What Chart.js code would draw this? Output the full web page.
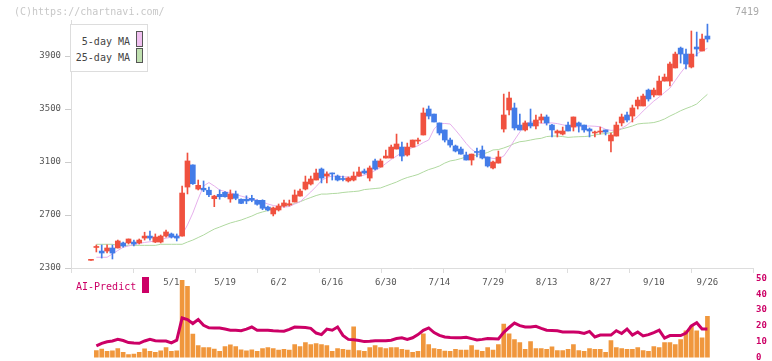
<!DOCTYPE html>
<html><head><meta charset="utf-8">
<script src="https://cdn.jsdelivr.net/npm/chart.js@4.4.1/dist/chart.umd.min.js"></script>
<style>
html,body{margin:0;padding:0;background:#fff;}
#wrap{position:relative;width:772px;height:361px;overflow:hidden;font-family:"DejaVu Sans Mono",monospace;}
canvas{position:absolute;left:0;}
#c1{top:0;} #c2{top:270px;}
.t{position:absolute;white-space:nowrap;line-height:12px;}
</style></head><body>
<div id="wrap">
<canvas id="c2" width="772" height="96"></canvas>
<canvas id="c1" width="772" height="295"></canvas>
<div class="t" style="left:14px;top:6px;font-size:10px;color:#c8c8c8">(C)https://chartnavi.com/</div>
<div class="t" style="left:735px;top:6px;font-size:10px;color:#aaa">7419</div>
<div style="position:absolute;left:70px;top:24px;width:76px;height:46px;border:1px solid #ddd;background:#fff;">
  <div class="t" style="right:17px;top:11px;font-size:10px;color:#444">5-day MA</div>
  <div class="t" style="right:17px;top:27px;font-size:10px;color:#444">25-day MA</div>
  <div style="position:absolute;left:65px;top:6px;width:5px;height:14px;border:1px solid #555;background:#f0c0f0"></div>
  <div style="position:absolute;left:65px;top:23px;width:5px;height:13px;border:1px solid #555;background:#c0e0b0"></div>
</div>
<div class="t" style="left:76px;top:281px;font-size:10px;color:#cc0066">AI-Predict</div>
<div style="position:absolute;left:142px;top:277px;width:7px;height:16px;background:#cc0066"></div>
</div>
<script>
// ---- data ----
const open = [2358,2455,2428,2428,2451,2451,2489,2489,2496,2489,
2526,2541,2496,2496,2541,2557,2541,2541,2911,3078,
2896,2902,2887,2823,2856,2871,2821,2859,2819,2819,
2826,2811,2811,2760,2708,2738,2768,2776,2798,2843,
2896,2934,2964,3047,2994,3017,2994,2972,2957,2964,
2994,3032,2979,3108,3062,3130,3130,3198,3213,3153,
3213,3258,3304,3500,3462,3395,3342,3266,3221,3198,
3153,3115,3178,3190,3138,3055,3092,3349,3493,3508,
3379,3342,3395,3372,3417,3440,3379,3319,3311,3379,
3364,3395,3379,3349,3319,3326,3342,3259,3296,3395,
3455,3447,3523,3523,3643,3606,3606,3711,3711,3810,
3960,3915,3817,3968,3938,4051];
const close = [2362,2460,2413,2451,2413,2504,2466,2519,2481,2511,
2541,2526,2534,2541,2572,2534,2526,2866,3108,2936,
2924,2889,2853,2843,2838,2838,2859,2826,2788,2806,
2811,2781,2751,2738,2753,2768,2791,2785,2851,2881,
2949,2972,3017,2979,3010,3010,2964,2968,2979,2994,
3025,3017,3055,3047,3108,3145,3213,3236,3145,3213,
3266,3266,3470,3447,3402,3319,3266,3228,3183,3160,
3115,3160,3172,3130,3070,3100,3138,3455,3583,3357,
3342,3395,3372,3417,3440,3395,3342,3334,3334,3334,
3440,3372,3342,3334,3326,3334,3326,3304,3379,3440,
3417,3508,3568,3598,3576,3643,3711,3741,3840,3915,
3915,3840,3915,3953,4028,4028];
const high = [2362,2474,2474,2474,2474,2511,2496,2519,2511,2519,
2570,2579,2557,2549,2587,2564,2557,2919,3168,3078,
2964,2957,2911,2849,2889,2876,2889,2881,2822,2845,
2849,2815,2815,2768,2760,2783,2813,2813,2889,2896,
2994,2994,3047,3055,3025,3017,3002,2994,2987,3025,
3062,3047,3070,3123,3123,3190,3228,3311,3251,3243,
3266,3281,3508,3523,3462,3395,3342,3281,3228,3213,
3175,3160,3206,3221,3138,3108,3183,3613,3628,3545,
3462,3410,3500,3455,3462,3455,3385,3342,3364,3402,
3440,3402,3379,3357,3334,3364,3342,3319,3402,3462,
3477,3530,3590,3613,3651,3658,3749,3764,3855,3930,
3968,3953,4089,4081,4066,4141];
const low = [2358,2421,2375,2413,2368,2451,2458,2481,2466,2481,
2511,2511,2492,2489,2532,2526,2504,2541,2859,2930,
2889,2876,2838,2763,2819,2834,2796,2815,2785,2785,
2800,2775,2740,2730,2693,2730,2760,2768,2798,2843,
2889,2926,2964,2942,2942,2964,2957,2957,2949,2957,
2994,3010,2957,3040,3062,3130,3130,3198,3108,3145,
3213,3236,3304,3425,3402,3304,3251,3213,3176,3160,
3115,3077,3138,3123,3062,3047,3092,3326,3455,3342,
3342,3334,3357,3349,3395,3379,3289,3289,3304,3334,
3334,3326,3326,3289,3289,3311,3304,3176,3296,3372,
3402,3402,3500,3523,3560,3591,3606,3711,3674,3810,
3847,3802,3810,3900,3938,4006];
const ma5 = [null,2381,2381,2381,2406,2432,2456,2466,2477,2485,
2493,2498,2504,2515,2525,2532,2538,2549,2625,2715,
2821,2919,2945,2919,2889,2877,2868,2855,2843,2832,
2822,2813,2798,2783,2772,2764,2760,2764,2783,2800,
2836,2874,2915,2960,2983,2994,2993,2989,2987,2985,
2991,3002,3015,3036,3058,3089,3119,3145,3172,3194,
3209,3223,3247,3266,3349,3388,3391,3387,3341,3292,
3240,3196,3168,3148,3135,3127,3124,3145,3202,3266,
3326,3387,3404,3402,3392,3394,3395,3390,3381,3372,
3366,3366,3369,3372,3370,3366,3347,3339,3341,3354,
3379,3413,3443,3485,3523,3560,3591,3625,3658,3715,
3772,3824,3877,3915,3941,3958];
const ma25 = [null,2479,2479,2479,2479,2471,2471,2471,2471,2471,
2471,2471,2471,2479,2479,2479,2479,2479,2496,2511,
2530,2549,2572,2594,2609,2625,2640,2651,2662,2677,
2692,2711,2723,2734,2745,2757,2768,2775,2787,2800,
2817,2832,2847,2858,2858,2862,2864,2870,2874,2877,
2881,2892,2896,2900,2904,2919,2934,2949,2968,2983,
2994,3006,3025,3043,3055,3070,3092,3108,3115,3126,
3138,3145,3153,3160,3172,3191,3194,3206,3221,3240,
3253,3258,3266,3274,3279,3292,3296,3296,3292,3286,
3289,3291,3292,3296,3304,3311,3315,3321,3334,3349,
3360,3372,3387,3392,3394,3398,3409,3425,3447,3466,
3487,3504,3519,3538,3575,3611];
const volume = [null,9.0,10.7,7.8,8.6,11.5,6.5,3.7,4.6,6.5,
11.1,7.8,6.5,8.6,12.7,7.8,8.6,97.5,90.1,29.6,
15.2,12.7,12.7,10.7,7.8,14.0,16.0,14.0,9.9,8.6,
9.9,8.0,11.5,12.7,11.5,9.5,10.3,9.5,16.4,14.0,
18.9,16.4,17.7,16.4,15.2,7.8,11.5,10.3,9.5,38.7,
9.0,7.8,12.7,15.2,12.7,11.5,12.7,12.7,10.3,9.5,
6.5,7.8,30.0,16.4,11.5,10.3,8.3,7.8,10.3,9.5,
9.5,15.2,9.5,7.8,12.7,9.5,16.4,42.4,30.0,22.6,
18.9,10.3,20.1,11.5,11.5,10.3,13.6,9.0,9.0,10.3,
16.4,9.0,7.8,11.5,10.3,10.3,6.5,21.4,12.7,11.5,
10.3,10.3,12.7,9.0,7.8,14.0,12.7,18.9,18.9,16.4,
22.6,33.7,39.9,33.7,25.1,52.2];
const aiPredict = [null,7.4,9.0,10.0,10.5,11.5,10.8,9.5,9.2,9.0,
10.5,11.5,10.7,10.5,10.5,9.3,11.0,25.0,24.0,21.5,
24.0,20.4,18.8,18.7,18.7,18.0,17.3,17.2,17.0,18.0,
19.3,17.3,17.3,17.3,17.0,16.8,16.7,17.8,19.3,19.2,
19.0,18.5,15.5,14.5,18.0,17.3,19.3,14.0,11.5,11.2,
10.8,10.1,10.3,10.6,10.6,10.6,11.0,12.0,12.5,11.5,
12.5,14.5,17.2,18.7,15.8,14.0,13.0,12.7,12.5,12.6,
12.8,12.0,11.1,11.5,12.0,11.9,11.8,16.0,19.0,21.8,
20.2,19.3,19.3,19.8,18.5,17.3,17.1,16.9,16.2,16.2,
16.2,16.0,15.2,16.5,13.0,14.2,14.2,14.2,17.0,15.2,
18.0,14.2,16.2,13.7,14.5,15.8,17.3,12.3,13.9,13.9,
13.9,15.5,20.0,22.0,18.0,18.0];
const dateLabelIdx = [15,25,35,45,55,65,75,85,95,105,115];
const dateLabels = ['5/1','5/19','6/2','6/16','6/30','7/14','7/29','8/13','8/27','9/10','9/26'];
const priceTicks = [2300,2700,3100,3500,3900];
const aiTicks = [0,10,20,30,40,50];

// ---- layout / style ----
const XMIN = -3.73, XMAX = 123.5, GRID_DIV = 11;
const YMIN = 2300, YMAX = 4172;
const RED = '#f0513f', BLUE = '#437ce8';
const MONO = "'DejaVu Sans Mono', monospace";

const xs = open.map((_, i) => i);
const candleColor = xs.map(i => close[i] >= open[i] ? RED : BLUE);
const bodies = xs.map(i => ({x: i, y: [open[i], close[i]]}));
const wicks = xs.map(i => ({x: i, y: [low[i], high[i]]}));
const labelSet = new Set(dateLabelIdx);

new Chart(document.getElementById('c1'), {
  type: 'bar',
  data: { datasets: [
    {type:'bar', data: bodies, backgroundColor: candleColor, barThickness: 5, grouped:false, minBarLength:1, order:1},
    {type:'bar', data: wicks, backgroundColor: candleColor, barThickness: 1, grouped:false, minBarLength:1, order:2},
    {type:'line', data: xs.map(i => ({x:i, y:ma5[i]})), borderColor:'#e6b0ec', borderWidth:1, pointRadius:0, tension:0, order:3},
    {type:'line', data: xs.map(i => ({x:i, y:ma25[i]})), borderColor:'#b0d9a0', borderWidth:1, pointRadius:0, tension:0, order:4}
  ]},
  options: {
    responsive:false, animation:false, devicePixelRatio:1,
    layout:{padding:{left:0, right:19, top:20, bottom:0}},
    plugins:{legend:{display:false}, tooltip:{enabled:false}},
    scales:{
      x:{
        type:'linear', min:XMIN, max:XMAX, offset:false,
        afterBuildTicks: ax => {
          const t = [];
          for (let k = 0; k <= GRID_DIV; k++) t.push({value: XMIN + (XMAX - XMIN) * k / GRID_DIV});
          dateLabelIdx.forEach(v => t.push({value: v}));
          t.sort((a, b) => a.value - b.value);
          ax.ticks = t;
        },
        afterFit: s => { s.height = 27; },
        ticks:{
          autoSkip:false, maxRotation:0, minRotation:0, padding:4,
          color:'#555', font:{family:MONO, size:9},
          callback: v => labelSet.has(v) ? dateLabels[dateLabelIdx.indexOf(v)] : ''
        },
        grid:{drawOnChartArea:false, drawTicks:true, tickLength:5, offset:false,
          tickColor: ctx => (ctx.tick && labelSet.has(ctx.tick.value)) ? 'rgba(0,0,0,0)' : '#ddd'},
        border:{display:true, color:'#ddd'}
      },
      y:{
        min:YMIN, max:YMAX,
        afterBuildTicks: ax => { ax.ticks = priceTicks.map(v => ({value:v})); },
        afterFit: s => { s.width = 71; },
        ticks:{color:'#555', font:{family:MONO, size:9}, padding:4, callback: v => String(v)},
        grid:{drawOnChartArea:false, drawTicks:true, tickLength:6, tickColor:'#ccc'},
        border:{display:true, color:'#ddd'}
      }
    }
  }
});

new Chart(document.getElementById('c2'), {
  type: 'bar',
  data: { datasets: [
    {type:'line', data: xs.map(i => ({x:i, y:aiPredict[i]})), borderColor:'#cc0066', borderWidth:3, pointRadius:0, tension:0, xAxisID:'x', yAxisID:'y2', order:1},
    {type:'bar', data: xs.map(i => ({x:i, y:volume[i]})), backgroundColor:'#f0973d', barThickness:4, grouped:false, xAxisID:'x', yAxisID:'yv', order:2}
  ]},
  options: {
    responsive:false, animation:false, devicePixelRatio:1,
    layout:{padding:{left:0, right:0, top:7, bottom:8}},
    plugins:{legend:{display:false}, tooltip:{enabled:false}},
    scales:{
      x:{type:'linear', min:XMIN, max:XMAX, offset:false, display:false},
      yv:{
        type:'linear', position:'left', min:0, max:100,
        afterFit: s => { s.width = 71; },
        ticks:{display:false}, grid:{display:false, drawTicks:false}, border:{display:false}
      },
      y2:{
        type:'linear', position:'right', min:0, max:50,
        afterBuildTicks: ax => { ax.ticks = aiTicks.map(v => ({value:v})); },
        afterFit: s => { s.width = 19; },
        grid:{display:false, drawTicks:false, tickLength:0}, border:{display:false},
        ticks:{color:'#cc0066', font:{family:MONO, size:9, weight:'bold'}, padding:3}
      }
    }
  }
});
</script>
</body></html>
